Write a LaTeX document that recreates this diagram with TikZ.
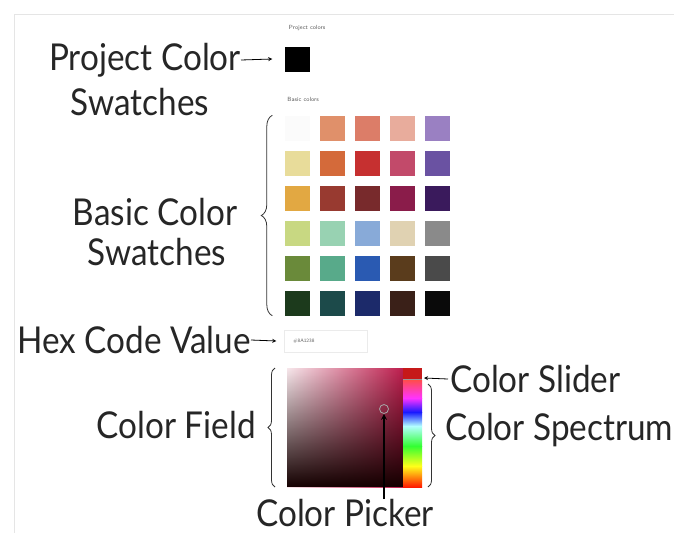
\documentclass[tikz,border=0pt]{standalone}
\usepackage{fontspec}
\newfontfamily\handfont[FakeStretch=0.9]{Lato}
\usetikzlibrary{positioning,decorations.pathreplacing,fadings}

% swatch colours, row by row
\definecolor{sw11}{HTML}{FBFBFB}\definecolor{sw12}{HTML}{E0906A}\definecolor{sw13}{HTML}{DC7D68}\definecolor{sw14}{HTML}{E8AC9C}\definecolor{sw15}{HTML}{9A80C2}
\definecolor{sw21}{HTML}{E8DC9A}\definecolor{sw22}{HTML}{D46A3A}\definecolor{sw23}{HTML}{C63030}\definecolor{sw24}{HTML}{C24A6A}\definecolor{sw25}{HTML}{6A52A2}
\definecolor{sw31}{HTML}{E2A842}\definecolor{sw32}{HTML}{983A30}\definecolor{sw33}{HTML}{782A2C}\definecolor{sw34}{HTML}{8A1C4A}\definecolor{sw35}{HTML}{3A1A5C}
\definecolor{sw41}{HTML}{C8D882}\definecolor{sw42}{HTML}{98D2B2}\definecolor{sw43}{HTML}{88AAD8}\definecolor{sw44}{HTML}{E0D2B2}\definecolor{sw45}{HTML}{8A8A8A}
\definecolor{sw51}{HTML}{6A8A3A}\definecolor{sw52}{HTML}{58AA8A}\definecolor{sw53}{HTML}{2A5AB2}\definecolor{sw54}{HTML}{5A3C1C}\definecolor{sw55}{HTML}{4A4A4A}
\definecolor{sw61}{HTML}{1C3A1C}\definecolor{sw62}{HTML}{1C4A4A}\definecolor{sw63}{HTML}{1C2A6A}\definecolor{sw64}{HTML}{3A2018}\definecolor{sw65}{HTML}{0A0A0A}
\definecolor{fieldhue}{HTML}{BE1E4E}
\definecolor{fieldpale}{HTML}{F8E8EC}

\tikzset{
  callout/.style={font=\handfont\fontsize{37}{39}\selectfont, inner sep=0pt, text=black!85},
  uilabel/.style={font=\sffamily\fontsize{6}{7}\selectfont, text=black!65, inner sep=0pt},
  swatch/.style={minimum size=25pt, inner sep=0pt, draw=none},
  pointer/.style={->, thick, >=stealth},
  curly/.style={decorate, decoration={brace, amplitude=#1}, thick, black!80},
}

\begin{document}
\begin{tikzpicture}[x=1pt, y=-1pt]
	\useasboundingbox (0,0) rectangle (674,533);
	\draw[black!10] (14,533) -- (14,14) -- (674,14);
	
	% project colours
	\node[uilabel] (projhead) at (307,28) {Project colors};
	\node[swatch, fill=black] (projsw) at (297,59) {};
	\node[uilabel] (basichead) at (303,99) {Basic colors};
	
	% basic colours
	\foreach \r in {1,...,6}
		\foreach \c in {1,...,5}
			\node[swatch, fill=sw\r\c] (sw\r\c) at ({297+35*(\c-1)}, {128+35*(\r-1)}) {};
	
	% hex field
	\node[draw=black!8, minimum width=83pt, minimum height=22pt, inner sep=0pt] (hexbox) at (326,341) {};
	\node[uilabel, font=\sffamily\fontsize{5}{6}\selectfont, anchor=west] (hexval) at (293,341) {\#8A1238};
	
	% colour field
	\shade[left color=fieldpale, right color=fieldhue] (287,368) rectangle (403,487);
	\fill[black!92!red, path fading=north] (287,368) rectangle (403,487);
	\coordinate (fieldtop) at (287,368);
	\coordinate (fieldbot) at (287,487);
	
	% spectrum strip
	\fill[red!75!black!90] (403,368) rectangle (422,380);
	\shade[top color=red!70, bottom color=magenta!80] (403,380) rectangle (422,398);
	\shade[top color=magenta!80, bottom color=blue!90] (403,398) rectangle (422,412);
	\shade[top color=blue!90, bottom color=cyan!30] (403,412) rectangle (422,426);
	\shade[top color=cyan!30, bottom color=green!80] (403,426) rectangle (422,446);
	\shade[top color=green!80, bottom color=yellow!90] (403,446) rectangle (422,466);
	\shade[top color=yellow!90, bottom color=red!80!orange] (403,466) rectangle (422,487);
	\draw[black!40, thick] (403,379) -- (422,379);
	\coordinate (slidertip) at (424,378);
	\coordinate (spectop) at (428,384);
	\coordinate (specbot) at (428,487);
	
	% picker
	\node[circle, draw=black!35, thick, minimum size=9pt, inner sep=0pt] (picker) at (384,409) {};
	
	% labels
	\node[callout, anchor=east] (projlbl) at (241,60) {Project Color};
	\node[callout] (projlbl2) at (140,102) {Swatches};
	\node[callout] (basiclbl) at (155,212) {Basic Color};
	\node[callout] (basiclbl2) at (157,252) {Swatches};
	\node[callout, anchor=east] (hexlbl) at (251,340) {Hex Code Value};
	\node[callout, anchor=east] (fieldlbl) at (256,425) {Color Field};
	\node[callout, anchor=west] (sliderlbl) at (450,379) {Color Slider};
	\node[callout, anchor=west] (speclbl) at (445,430) {Color Spectrum};
	\node[callout, anchor=south] (pickerlbl) at (345,527) {Color Picker};
	
	\draw[pointer] (projlbl.east) -- ([xshift=-12pt]projsw.west);
	\draw[pointer] (hexlbl.east) -- ([xshift=-8pt]hexbox.west);
	\draw[pointer] ([xshift=-2pt]sliderlbl.west) -- (slidertip);
	\draw[pointer, line width=1.6pt] (pickerlbl.north -| picker.south) -- (picker.south);
	
	\draw[curly=11pt] ([xshift=-12pt]sw61.south west) -- ([xshift=-12pt]sw11.north west);
	\draw[curly=7pt] ([xshift=-12pt]fieldbot) -- ([xshift=-12pt]fieldtop);
	\draw[curly=7pt] (spectop) -- (specbot);
	
\end{tikzpicture}
\end{document}
